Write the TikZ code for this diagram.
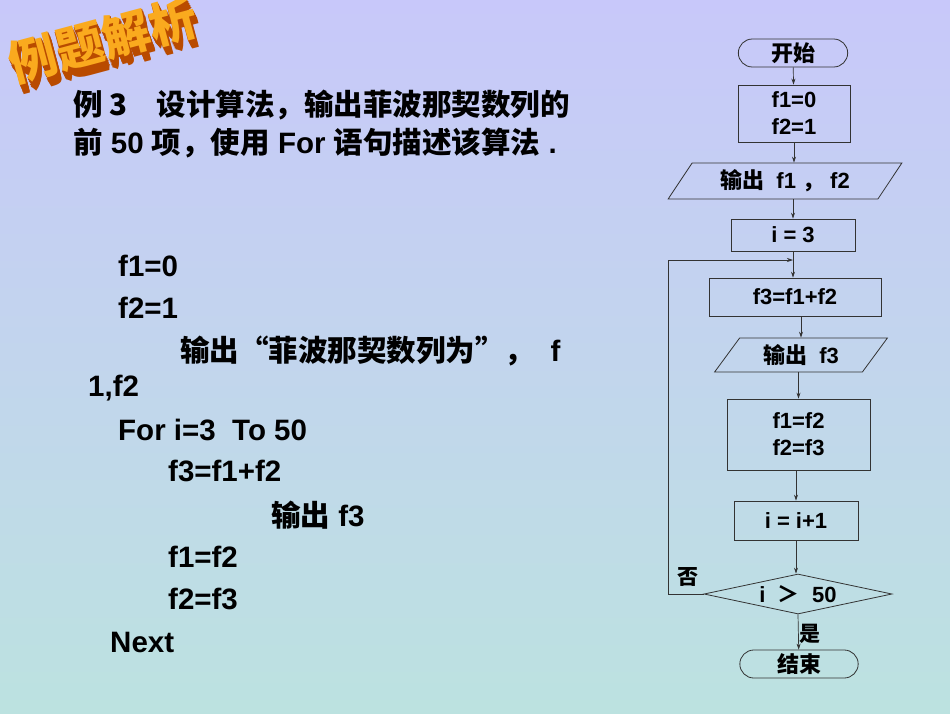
\documentclass[tikz,border=0pt]{standalone}
\usepackage{fontspec}
\setmainfont{Liberation Sans}
\newfontfamily\cjk{Noto Sans CJK SC}
\usetikzlibrary{shapes.geometric,shapes.misc,arrows.meta}
\begin{document}
\begin{tikzpicture}[x=1pt,y=-1pt,
  box/.style={draw=black!80,line width=0.8pt,minimum width=#1,align=center,inner sep=2pt},
  term/.style={draw=black!80,line width=0.8pt,rounded rectangle,minimum width=#1,minimum height=28pt},
  io/.style={draw=black!80,line width=0.8pt,trapezium,trapezium left angle=60,trapezium right angle=120,minimum width=#1,inner ysep=4pt,trapezium stretches=true},
  arr/.style={-{Stealth[length=6pt,width=4pt]},line width=0.7pt,draw=black!80},
  ft/.style={font=\fontsize{22}{25}\selectfont\bfseries},
  lt/.style={font=\fontsize{29.5}{32}\selectfont\bfseries,anchor=west,inner sep=0pt}]
\shade[top color={rgb,255:red,200;green,200;blue,250},bottom color={rgb,255:red,188;green,226;blue,224}] (0,0) rectangle (950,713);
\useasboundingbox (0,0) rectangle (950,713);
% title
\foreach \d in {8,7,...,1}{
  \node[rotate=15,font=\cjk\bfseries\fontsize{48}{48}\selectfont,text={rgb,255:red,185;green,75;blue,0}] at (103+0.5*\d,40+1.1*\d) {例题解析};}
\node[rotate=15,font=\cjk\bfseries\fontsize{48}{48}\selectfont,text={rgb,255:red,250;green,170;blue,30}] (title) at (103,40) {例题解析};
% left text
\node[lt] (p1) at (73,105) {\cjk\bfseries 例 3\quad 设计算法，输出菲波那契数列的};
\node[lt] (p2) at (73,143) {{\cjk\bfseries 前} 50 {\cjk\bfseries 项，使用} For {\cjk\bfseries 语句描述该算法} .};
\node[lt] (c1) at (118,266) {f1=0};
\node[lt] (c2) at (118,308) {f2=1};
\node[lt] (c3) at (180,351) {{\cjk\bfseries 输出“菲波那契数列为”，}\ \ f};
\node[lt] (c4) at (88,388) {1,f2};
\node[lt] (c5) at (118,430) {For i=3\ \ To 50};
\node[lt] (c6) at (168,471) {f3=f1+f2};
\node[lt] (c7) at (271,515) {{\cjk\bfseries 输出} f3};
\node[lt] (c8) at (168,557) {f1=f2};
\node[lt] (c9) at (168,599) {f2=f3};
\node[lt] (c10) at (110,642) {Next};
% flowchart
\node[term=116pt,ft] (s) at (793,53) {\cjk\bfseries 开始};
\node[box=112pt,minimum height=57pt,ft] (a) at (794,113.5) {f1=0\\[2pt]f2=1};
\node[io=234pt,minimum height=36pt,ft] (o1) at (785,181) {{\cjk\bfseries 输出}\ \ f1 {\cjk\bfseries ，} f2};
\node[box=124pt,minimum height=32pt,ft] (b) at (793,235) {i = 3};
\node[box=172pt,minimum height=38pt,ft] (c) at (795,297) {f3=f1+f2};
\node[io=173pt,minimum height=34pt,ft] (o2) at (801,355) {{\cjk\bfseries 输出}\ \ f3};
\node[box=143pt,minimum height=71pt,ft] (d) at (798.5,434.5) {f1=f2\\[2pt]f2=f3};
\node[box=124pt,minimum height=39pt,ft] (e) at (796,520.5) {i = i+1};
\node[diamond,draw=black!80,line width=0.8pt,aspect=4.7,minimum width=188pt,minimum height=40pt,inner sep=0pt,ft] (f) at (798,594) {i\ \ {\cjk ＞}\ \ 50};
\node[term=125pt,ft] (g) at (799,664) {\cjk\bfseries 结束};
\coordinate (j) at (793,260);
\coordinate (l1) at (668,594);
\coordinate (l2) at (668,260);
\draw[arr] (s) -- (a);
\draw[arr] (a) -- (a|-o1.north);
\draw[arr] (o1.south-|b) -- (b);
\draw[line width=0.7pt,draw=black!80] (b) -- (j);
\draw[arr] (j) -- (j|-c.north);
\draw[arr] (f.west) -- (l1) -- (l2) -- (j);
\draw[arr] (c.south-|o2) -- (o2.north-|o2);
\draw[arr] (o2.south-|d) -- (d);
\draw[arr] (d.south-|e) -- (e);
\draw[arr] (e) -- (f.north-|e);
\draw[arr] (f.south) -- (g);
\node[font=\cjk\bfseries\fontsize{21}{22}\selectfont] (no) at (688,577) {否};
\node[font=\cjk\bfseries\fontsize{21}{22}\selectfont] (yes) at (810,634) {是};
\end{tikzpicture}
\end{document}
